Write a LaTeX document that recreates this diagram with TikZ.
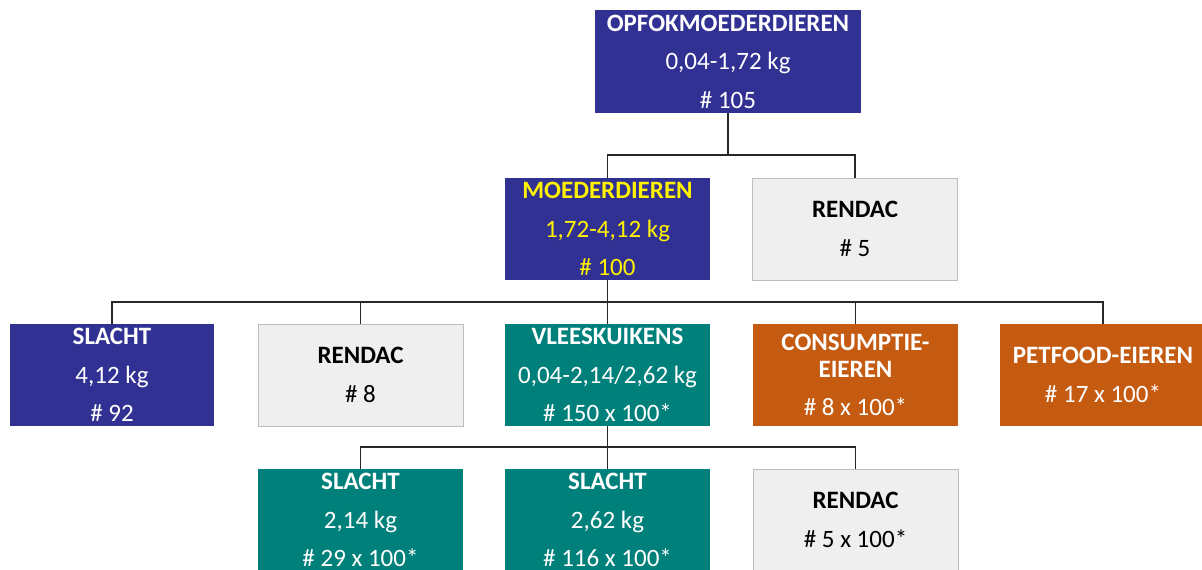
\documentclass[tikz,border=0pt]{standalone}
\usepackage{fontspec}
\setmainfont{Carlito}
\definecolor{cblue}{RGB}{49,49,147}
\definecolor{cteal}{RGB}{0,128,122}
\definecolor{corange}{RGB}{197,90,17}
\definecolor{cgray}{RGB}{239,239,239}
\definecolor{cgrayb}{RGB}{190,190,190}
\definecolor{cline}{RGB}{40,40,40}
\begin{document}
\begin{tikzpicture}[x=1pt,y=-1pt,
  box/.style={minimum width=205pt,minimum height=102pt,inner sep=0pt,align=center,
    font=\fontsize{25}{27}\selectfont},
  bluebox/.style={box,fill=cblue,text=white},
  tealbox/.style={box,fill=cteal,text=white},
  orangebox/.style={box,fill=corange,text=white},
  graybox/.style={box,fill=cgray,draw=cgrayb,line width=0.8pt,text=black},
  conn/.style={draw=cline,line width=1.3pt}]
\useasboundingbox (0,0) rectangle (1202,570);
\node[bluebox,minimum width=266pt,minimum height=103pt] (opfok) at (728,61.5)
  {\textbf{OPFOKMOEDERDIEREN}\\[11.5pt]0,04-1,72 kg\\[11.5pt]\# 105};
\node[bluebox,text=yellow] (moed) at (607.5,229)
  {\textbf{MOEDERDIEREN}\\[11.5pt]1,72-4,12 kg\\[11.5pt]\# 100};
\node[graybox] (r1) at (855,229) {\textbf{RENDAC}\\[11.5pt]\# 5};
\node[bluebox,minimum width=204pt] (sl1) at (112,375)
  {\textbf{SLACHT}\\[11.5pt]4,12 kg\\[11.5pt]\# 92};
\node[graybox] (r2) at (360.5,375) {\textbf{RENDAC}\\[11.5pt]\# 8};
\node[tealbox] (vlees) at (607.5,375)
  {\textbf{VLEESKUIKENS}\\[11.5pt]0,04-2,14/2,62 kg\\[11.5pt]\# 150 x 100*};
\node[orangebox] (cons) at (855.5,375)
  {\textbf{CONSUMPTIE-}\\\textbf{EIEREN}\\[11.5pt]\# 8 x 100*};
\node[orangebox,minimum width=206pt] (pet) at (1103,375)
  {\textbf{PETFOOD-EIEREN}\\[11.5pt]\# 17 x 100*};
\node[tealbox] (sl2) at (360.5,520)
  {\textbf{SLACHT}\\[11.5pt]2,14 kg\\[11.5pt]\# 29 x 100*};
\node[tealbox] (sl3) at (607.5,520)
  {\textbf{SLACHT}\\[11.5pt]2,62 kg\\[11.5pt]\# 116 x 100*};
\node[graybox] (r3) at (855.5,520) {\textbf{RENDAC}\\[11.5pt]\# 5 x 100*};
\coordinate (j1) at (728,155);
\coordinate (j2) at (607.5,302);
\coordinate (j3) at (607.5,447);
\draw[conn] (opfok.south) -- (j1);
\draw[conn] (j1) -| (moed.north);
\draw[conn] (j1) -| (r1.north);
\draw[conn] (moed.south) -- (j2);
\draw[conn] (j2) -| (sl1.north);
\draw[conn] (j2) -| (r2.north);
\draw[conn] (j2) -- (vlees.north);
\draw[conn] (j2) -| (cons.north);
\draw[conn] (j2) -| (pet.north);
\draw[conn] (vlees.south) -- (j3);
\draw[conn] (j3) -| (sl2.north);
\draw[conn] (j3) -- (sl3.north);
\draw[conn] (j3) -| (r3.north);
\end{tikzpicture}
\end{document}
